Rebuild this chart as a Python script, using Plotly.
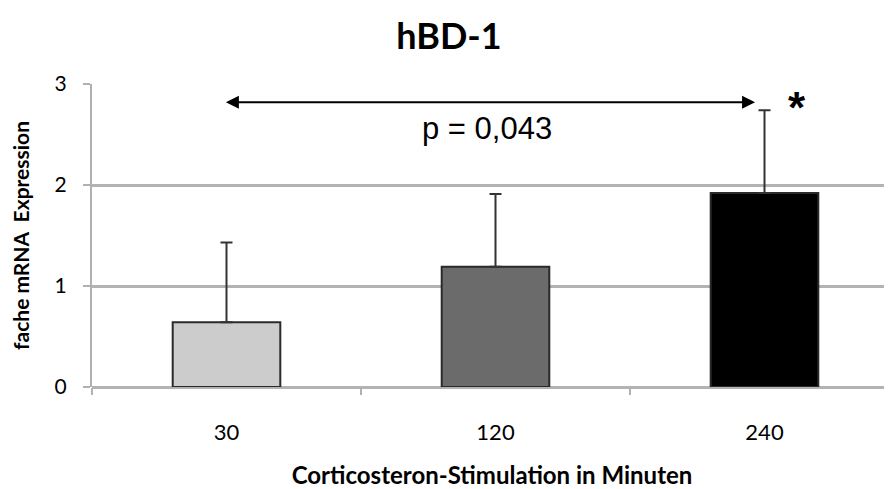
import plotly.graph_objects as go

categories = ["30", "120", "240"]
values = [0.64, 1.19, 1.92]
errors_up = [0.79, 0.72, 0.82]
bar_colors = ["#cccccc", "#6b6b6b", "#000000"]
y_ticks = [0, 1, 2, 3]

title_text = "hBD-1"
x_title = "Corticosteron-Stimulation in Minuten"
y_title = "fache mRNA\u00a0\u00a0Expression"
p_label = "p = 0,043"
bracket_y = 2.82

# the page adds an 8px body margin, so the figure is sized to fit the window
W, H = 884, 481

fig = go.Figure()
fig.add_trace(go.Bar(
    x=categories, y=values,
    marker=dict(color=bar_colors, line=dict(color="#2a2a2a", width=2)),
    width=0.4,
    error_y=dict(type="data", array=errors_up, arrayminus=[0, 0, 0],
                 symmetric=False, color="#333333", thickness=2, width=6),
    showlegend=False,
))

# significance arrow between first and third group
fig.add_annotation(x=1.965, y=bracket_y, ax=-0.008, ay=bracket_y,
                   xref="x", yref="y", axref="x", ayref="y",
                   text="", showarrow=True, arrowhead=2, arrowside="end+start",
                   arrowsize=1.3, arrowwidth=2, arrowcolor="#000000")
fig.add_annotation(x=0.968, y=2.56, xref="x", yref="y", text=p_label,
                   showarrow=False,
                   font=dict(family="Liberation Sans, Arial", size=31, color="#000"))
fig.add_annotation(x=2.12, y=2.77, xref="x", yref="y", text="<b>*</b>",
                   showarrow=False,
                   font=dict(family="Liberation Sans, Arial", size=44, color="#000"))

font_main = "Lato, Open Sans, sans-serif"
fig.update_layout(
    width=W, height=H,
    margin=dict(l=84, r=0, t=76, b=102, autoexpand=False),
    paper_bgcolor="white", plot_bgcolor="white",
    title=dict(text="<b>" + title_text + "</b>", x=441 / W, xref="container",
               y=1 - 16 / H, yref="container", yanchor="top", xanchor="center",
               font=dict(family=font_main, size=36, color="#000")),
    bargap=0.6,
)
fig.update_xaxes(
    automargin=False,
    range=[-0.5, -0.5 + 800 / 269],
    ticks="outside", tickson="boundaries", ticklen=7, tickwidth=2, tickcolor="#b0b0b0",
    showline=False, showgrid=False,
    tickfont=dict(family=font_main, size=22, color="#000"),
    ticklabelstandoff=30,
    title=dict(text="<b>" + x_title + "</b>", standoff=29,
               font=dict(family=font_main, size=24, color="#000")),
)
fig.update_yaxes(
    automargin=False,
    range=[0, 3], tickvals=y_ticks, ticktext=[str(v) for v in y_ticks],
    ticks="outside", ticklen=7, tickwidth=2, tickcolor="#b0b0b0",
    showline=True, linecolor="#b0b0b0", linewidth=2,
    showgrid=True, gridcolor="#b3b3b3", gridwidth=3,
    zeroline=True, zerolinecolor="#b3b3b3", zerolinewidth=3,
    tickfont=dict(family=font_main, size=21, color="#000"),
    ticklabelstandoff=12,
    title=dict(text="<b>" + y_title + "</b>", standoff=34,
               font=dict(family=font_main, size=21, color="#000")),
)
fig.write_html("out.html")
